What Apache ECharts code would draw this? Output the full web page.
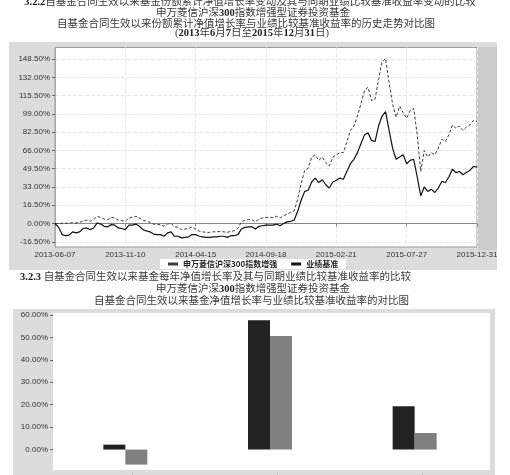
<!DOCTYPE html>
<html><head><meta charset="utf-8">
<script src="https://cdn.jsdelivr.net/npm/echarts@6/dist/echarts.min.js"></script>
<style>html,body{margin:0;padding:0;background:#fff;overflow:hidden}#c{width:510px;height:475px}</style>
</head><body><div id="c"></div>
<script>
// ---- data ----
const xLabels = ['2013-06-07','2013-11-10','2014-04-15','2014-09-18','2015-02-21','2015-07-27','2015-12-31'];
const yTicks = [-16.5, 0, 16.5, 33, 49.5, 66, 82.5, 99, 115.5, 132, 148.5];
const seriesNames = ['申万菱信沪深300指数增强', '业绩基准'];
const fundCum = [
  0, 0.1, 0.2, 0.3, 0.2, 0.8, 0.5, 1.0, 2.5, 3.0,
  2.0, 3.5, 6.5, 5.5, 4.0, 3.5, 5.5, 5.0, 3.0, 2.5,
  2.0, 5.0, 5.5, 6.5, 5.0, 3.0, 2.2, 1.0, -0.5, -1.0,
  -1.0, -2.5, -0.5, 0.0, -3.0, -3.5, -5.5, -5.0, -4.5, -3.0,
  -5.0, -7.0, -7.5, -8.0, -8.0, -7.5, -7.5, -7.0, -7.5, -8.0,
  -7.0, -6.5, -4.5, 1.5, 3.0, 3.5, 3.5, 1.5, 4.0, 5.0,
  5.5, 5.5, 5.5, 6.5, 5.0, 7.0, 8.5, 10.0, 11.5, 22.0,
  36.0, 48.0, 50.0, 60.0, 62.0, 57.0, 60.0, 55.0, 52.0, 60.0,
  62.0, 64.0, 64.0, 74.0, 84.0, 88.0, 97.0, 108.0, 120.0, 123.0,
  111.0, 112.0, 130.0, 146.0, 149.0, 127.0, 108.0, 96.0, 106.0, 100.0,
  95.0, 102.0, 104.0, 80.0, 47.0, 66.0, 60.0, 64.0, 62.0, 68.0,
  76.0, 74.0, 80.0, 89.0, 86.0, 88.0, 84.0, 87.0, 89.0, 93.0,
  92.3
];
const benchCum = [
  0, -3.2, -10.0, -11.0, -10.5, -7.5, -8.5, -7.5, -4.5, -4.0,
  -5.5, -4.0, 0.5, -0.5, -2.5, -3.0, -1.0, -1.5, -4.0, -4.5,
  -5.5, -1.5, -1.5, -0.5, -2.5, -5.5, -6.7, -7.5, -9.5, -10.0,
  -10.0, -11.5, -8.5, -7.5, -11.5, -11.5, -13.0, -12.5, -12.0, -10.0,
  -10.0, -11.5, -12.0, -12.5, -12.5, -12.0, -12.0, -11.5, -11.5, -12.5,
  -11.0, -11.0, -10.0, -5.0, -3.5, -3.0, -3.0, -5.0, -2.5, -2.0,
  -1.5, -1.5, -1.5, -0.5, -2.0, 0.0, 1.5, 2.0, 3.0, 11.0,
  21.0, 29.0, 30.0, 37.5, 41.0, 37.0, 39.5, 35.0, 32.0, 37.5,
  39.0, 41.0, 40.0, 47.0, 54.0, 58.0, 64.0, 72.0, 80.0, 82.0,
  75.0, 74.0, 88.0, 97.0, 101.0, 84.0, 68.0, 58.0, 60.0, 62.0,
  54.0, 57.0, 58.0, 42.0, 25.0, 33.0, 29.0, 31.0, 28.0, 32.0,
  38.0, 37.0, 42.0, 49.0, 46.0, 47.0, 44.0, 46.0, 48.0, 51.5,
  50.9
];
const barCats = ['2013年', '2014年', '2015年'];
const fundYear = [2.2, 57.7, 19.3];
const benchYear = [-6.7, 50.6, 7.4];

// ---- chart ----
const LABEL_STEP = 20;
const idx = fundCum.map((_, i) => String(i));
const pct = v => v.toFixed(2) + '%';
const cjk = '"Liberation Serif","Noto Sans CJK SC",serif';
const tColor = '#3a3a3a';
function txt(x, y, s, align) {
  return { type: 'text', x: x, y: y, z: 10, style: {
    text: s, fill: tColor, font: '10.5px ' + cjk, align: align || 'center', verticalAlign: 'middle',
    rich: { b: { fontFamily: cjk, fontSize: 10.5, fontWeight: 'bold', fill: '#222' } }
  }};
}
const axisFont = { fontFamily: 'Liberation Sans', fontSize: 8, color: '#333' };

const chart = echarts.init(document.getElementById('c'), null, { renderer: 'canvas' });
chart.setOption({
  animation: false,
  graphic: [
    { type: 'rect', z: -10, shape: { x: 9, y: 42, width: 488, height: 228 }, style: { fill: '#dcdcdc' } },
    { type: 'rect', z: -9, shape: { x: 478, y: 47, width: 19, height: 203 }, style: { fill: '#cbcbcb' } },
    { type: 'rect', z: -10, shape: { x: 13, y: 309, width: 482, height: 170 }, style: { fill: '#dcdcdc' } },
    { type: 'rect', z: -9, shape: { x: 53, y: 313, width: 437, height: 157 }, style: { fill: '#ffffff' } },
    txt(250, 2, '{b|3.2.2}自基金合同生效以来基金份额累计净值增长率变动及其与同期业绩比较基准收益率变动的比较'),
    txt(253, 13.3, '申万菱信沪深{b|300}指数增强型证券投资基金'),
    txt(246, 24, '自基金合同生效以来份额累计净值增长率与业绩比较基准收益率的历史走势对比图'),
    txt(252, 33.5, '({b|2013}年{b|6}月{b|7}日至{b|2015}年{b|12}月{b|31}日)'),
    txt(20, 277, '{b|3.2.3} 自基金合同生效以来基金每年净值增长率及其与同期业绩比较基准收益率的比较', 'left'),
    txt(253, 288.8, '申万菱信沪深{b|300}指数增强型证券投资基金'),
    txt(251.5, 301.7, '自基金合同生效以来基金净值增长率与业绩比较基准收益率的对比图')
  ],
  legend: {
    data: seriesNames, left: 160, top: 259, padding: [1, 8], itemGap: 14,
    icon: 'rect', itemWidth: 10, itemHeight: 3, backgroundColor: '#fff',
    textStyle: { fontFamily: '"Noto Sans CJK SC"', fontSize: 8, fontWeight: 'bold', color: '#222' }
  },
  grid: [
    { left: 55, top: 47.5, width: 422, height: 199.5, show: true, backgroundColor: '#fff', borderColor: '#9a9a9a', borderWidth: 1, outerBoundsMode: 'none', containLabel: false },
    { left: 53, top: 315, width: 434, height: 157, show: false, outerBoundsMode: 'none', containLabel: false }
  ],
  xAxis: [
    { type: 'category', gridIndex: 0, data: idx, boundaryGap: false,
      axisLine: { lineStyle: { color: '#888' } },
      axisTick: { show: true, interval: LABEL_STEP - 1, length: 3, lineStyle: { color: '#888' } },
      axisLabel: Object.assign({ interval: LABEL_STEP - 1, margin: 4,
        formatter: (v, i) => (i % LABEL_STEP === 0 ? xLabels[i / LABEL_STEP] : '') }, axisFont),
      splitLine: { show: true, interval: LABEL_STEP - 1, lineStyle: { color: '#e8e8e8', type: 'dashed' } } },
    { type: 'category', gridIndex: 1, data: barCats,
      axisLine: { show: false }, axisTick: { show: false },
      axisLabel: Object.assign({ margin: 3 }, axisFont) }
  ],
  yAxis: [
    { type: 'value', gridIndex: 0, min: -21.2, max: 158.9,
      axisLine: { show: true, lineStyle: { color: '#aaa' } },
      axisTick: { show: true, length: 3, customValues: yTicks, lineStyle: { color: '#666' } },
      axisLabel: Object.assign({ customValues: yTicks, margin: 5, formatter: pct }, axisFont),
      splitLine: { show: true, lineStyle: { color: '#e8e8e8', type: 'dashed' } } },
    { type: 'value', gridIndex: 1, min: -10, max: 60, interval: 10,
      axisLine: { show: false },
      axisTick: { show: true, length: 3, lineStyle: { color: '#666' } },
      axisLabel: Object.assign({ margin: 5, formatter: pct, showMinLabel: false }, axisFont),
      splitLine: { show: false } }
  ],
  series: [
    { name: seriesNames[0], type: 'line', xAxisIndex: 0, yAxisIndex: 0, data: fundCum, symbol: 'none',
      lineStyle: { color: '#3c3c3c', width: 1, type: [3, 2] }, itemStyle: { color: '#3c3c3c' } },
    { name: seriesNames[1], type: 'line', xAxisIndex: 0, yAxisIndex: 0, data: benchCum, symbol: 'none',
      lineStyle: { color: '#111', width: 1.2 }, itemStyle: { color: '#111' } },
    { name: '基金净值增长率', type: 'bar', xAxisIndex: 1, yAxisIndex: 1, data: fundYear,
      barWidth: 22, barGap: '0%', itemStyle: { color: '#222' } },
    { name: '业绩比较基准收益率', type: 'bar', xAxisIndex: 1, yAxisIndex: 1, data: benchYear,
      barWidth: 22, barGap: '0%', itemStyle: { color: '#808080' } }
  ]
});
</script></body></html>
